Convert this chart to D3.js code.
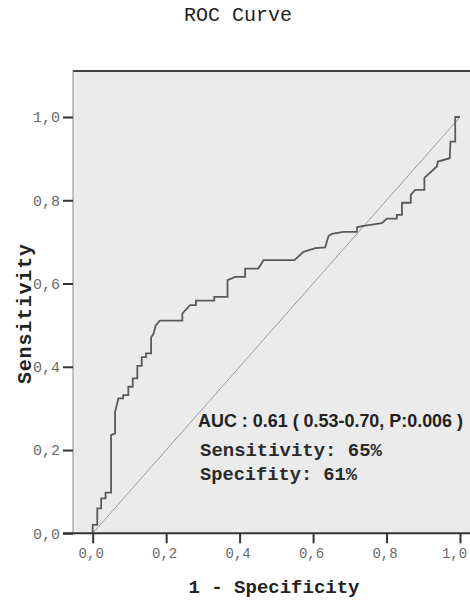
<!DOCTYPE html>
<html>
<head>
<meta charset="utf-8">
<script src="https://cdn.jsdelivr.net/npm/d3@7"></script>
<style>
  html, body { margin: 0; padding: 0; background: #ffffff; }
  svg { display: block; }
</style>
</head>
<body>
<script>
// ---- data ----
const fpr = [0, 0, 0.0125, 0.0125, 0.023, 0.023, 0.035, 0.035, 0.05, 0.05, 0.061, 0.061, 0.07, 0.083, 0.083, 0.097, 0.097,
  0.109, 0.109, 0.1215, 0.1215, 0.1335, 0.1335, 0.145, 0.145, 0.159, 0.159, 0.165, 0.172, 0.183, 0.244, 0.244, 0.265,
  0.281, 0.281, 0.331, 0.331, 0.367, 0.367, 0.388, 0.415, 0.415, 0.451, 0.465, 0.549, 0.574, 0.606, 0.633, 0.642, 0.651,
  0.683, 0.719, 0.72, 0.733, 0.787, 0.801, 0.828, 0.828, 0.842, 0.842, 0.866, 0.866, 0.878, 0.903, 0.903, 0.937, 0.94,
  0.972, 0.974, 0.987, 0.987, 1.0];
const tpr = [0, 0.02, 0.02, 0.06, 0.06, 0.084, 0.084, 0.0975, 0.0975, 0.236, 0.24, 0.292, 0.324, 0.324, 0.332, 0.332, 0.352,
  0.352, 0.372, 0.372, 0.402, 0.402, 0.423, 0.423, 0.432, 0.432, 0.471, 0.478, 0.5, 0.511, 0.511, 0.528, 0.548,
  0.548, 0.559, 0.559, 0.568, 0.568, 0.608, 0.616, 0.616, 0.636, 0.636, 0.656, 0.656, 0.676, 0.685, 0.687, 0.714, 0.719,
  0.724, 0.724, 0.735, 0.738, 0.745, 0.756, 0.756, 0.765, 0.765, 0.794, 0.794, 0.813, 0.825, 0.825, 0.854, 0.881, 0.893,
  0.901, 0.941, 0.941, 1.0, 1.0];
const refX = [0, 1];
const refY = [0, 1];
const xTicks = [0, 0.2, 0.4, 0.6, 0.8, 1.0];
const xTickLabels = ["0,0", "0,2", "0,4", "0,6", "0,8", "1,0"];
const yTicks = [0, 0.2, 0.4, 0.6, 0.8, 1.0];
const yTickLabels = ["0,0", "0,2", "0,4", "0,6", "0,8", "1,0"];
const titleText = "ROC Curve";
const xTitle = "1 - Specificity";
const yTitle = "Sensitivity";
const annotations = ["AUC : 0.61 ( 0.53-0.70, P:0.006 )", "Sensitivity: 65%", "Specifity: 61%"];

// ---- layout ----
const W = 470, H = 601;
const frame = { left: 73, top: 71, right: 476, bottom: 533.3 };
const x = d3.scaleLinear().domain([0, 1]).range([92.7, 460]);
const y = d3.scaleLinear().domain([0, 1]).range([533.3, 117]);

const svg = d3.select("body").append("svg").attr("width", W).attr("height", H);

// plot background
svg.append("rect")
  .attr("x", frame.left).attr("y", frame.top)
  .attr("width", frame.right - frame.left).attr("height", frame.bottom - frame.top)
  .attr("fill", "#ebebeb");

// frame borders
svg.append("line").attr("x1", frame.left).attr("x2", frame.right).attr("y1", frame.top).attr("y2", frame.top)
  .attr("stroke", "#444").attr("stroke-width", 2);
svg.append("line").attr("x1", frame.left).attr("x2", frame.left).attr("y1", frame.top).attr("y2", frame.bottom)
  .attr("stroke", "#888").attr("stroke-width", 1);

// reference diagonal
const pts = fpr.map((d, i) => [d, tpr[i]]);
const refPts = refX.map((d, i) => [d, refY[i]]);
const line = d3.line().x(d => x(d[0])).y(d => y(d[1]));
svg.append("path").attr("d", line(refPts)).attr("fill", "none")
  .attr("stroke", "#9a9a9a").attr("stroke-width", 1);

// ROC curve
svg.append("path").attr("d", line(pts)).attr("fill", "none")
  .attr("stroke", "#5a5a5a").attr("stroke-width", 1.8).attr("stroke-linejoin", "miter");

// axes
const tickFont = "'Liberation Mono', 'DejaVu Sans Mono', monospace";
const xAxis = d3.axisBottom(x).tickValues(xTicks).tickSize(10).tickPadding(5)
  .tickFormat((d, i) => xTickLabels[i]);
const gx = svg.append("g").attr("transform", `translate(0,${frame.bottom})`).call(xAxis);
gx.select(".domain").remove();

const yAxis = d3.axisLeft(y).tickValues(yTicks).tickSize(10).tickPadding(3)
  .tickFormat((d, i) => yTickLabels[i]);
const gy = svg.append("g").attr("transform", `translate(${frame.left},0)`).call(yAxis);
gy.select(".domain").remove();

[gx, gy].forEach(g => {
  g.selectAll(".tick line").attr("stroke", "#333").attr("stroke-width", 2);
  g.selectAll(".tick text").attr("fill", "#6a6a6a").style("font-family", tickFont).style("font-size", "15px");
});
gx.selectAll(".tick text").style("font-size", "14px").attr("dx", (d, i) => i === xTicks.length - 1 ? -6 : -2);

// bottom axis line
svg.append("line").attr("x1", 63).attr("x2", frame.right).attr("y1", frame.bottom).attr("y2", frame.bottom)
  .attr("stroke", "#333").attr("stroke-width", 2);

// title
svg.append("text").attr("x", 238).attr("y", 21).attr("text-anchor", "middle")
  .style("font-family", tickFont).style("font-size", "20px").attr("fill", "#222")
  .text(titleText);

// axis titles
svg.append("text").attr("x", 274).attr("y", 593).attr("text-anchor", "middle")
  .style("font-family", tickFont).style("font-size", "19px").style("font-weight", "bold").attr("fill", "#222")
  .text(xTitle);
svg.append("text").attr("transform", "translate(31,314) rotate(-90)").attr("text-anchor", "middle")
  .style("font-family", tickFont).style("font-size", "20px").style("font-weight", "bold").attr("fill", "#222")
  .attr("textLength", 140).attr("lengthAdjust", "spacing")
  .text(yTitle);

// annotation
svg.append("text").attr("x", 198).attr("y", 427)
  .style("font-family", "'Liberation Sans Narrow', 'Liberation Sans', Arial, sans-serif")
  .style("font-size", "18px").style("font-weight", "bold").attr("fill", "#222")
  .attr("textLength", 265).attr("lengthAdjust", "spacingAndGlyphs")
  .text(annotations[0]);
svg.append("text").attr("x", 200).attr("y", 456)
  .style("font-family", tickFont).style("font-size", "18px").style("font-weight", "bold").attr("fill", "#2a2a2a")
  .attr("textLength", 182).attr("lengthAdjust", "spacingAndGlyphs")
  .text(annotations[1]);
svg.append("text").attr("x", 200).attr("y", 480)
  .style("font-family", tickFont).style("font-size", "18px").style("font-weight", "bold").attr("fill", "#2a2a2a")
  .attr("textLength", 157).attr("lengthAdjust", "spacingAndGlyphs")
  .text(annotations[2]);
</script>
</body>
</html>
